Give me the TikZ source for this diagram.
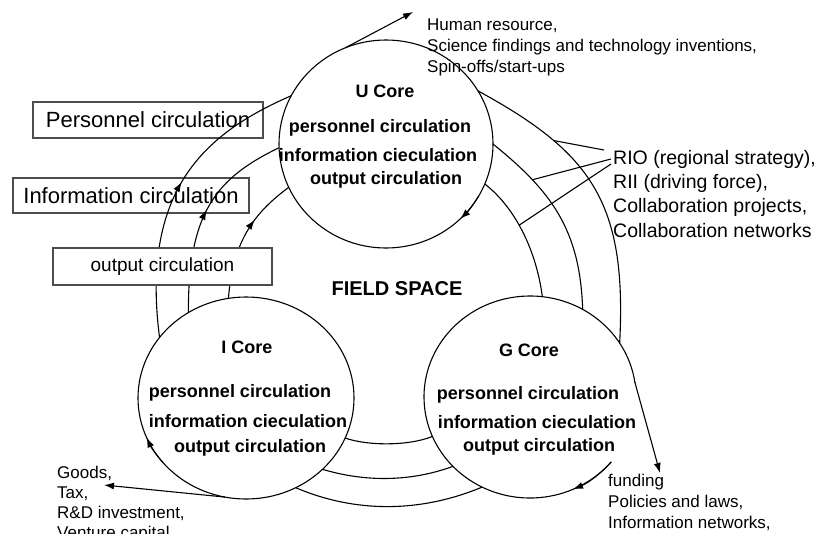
\documentclass[tikz,border=0pt]{standalone}
\usepackage{fontspec}
\setmainfont{Liberation Sans}
\usetikzlibrary{arrows.meta,decorations.markings,shapes.geometric}

\tikzset{
  core/.style={ellipse, inner sep=0pt, outer sep=0pt},
  ring/.style={line width=1.1pt, black},
  tipA/.style={-{Latex[length=10pt,width=7pt]}},
  midarrow/.style={postaction={decorate}, decoration={markings,
      mark=at position #1 with {\arrow{Latex[length=10pt,width=7pt]}}}},
  circbox/.style={draw=black!70, line width=1.4pt, inner sep=0pt},
  boldtxt/.style={font=\fontsize{18}{20}\selectfont\bfseries, inner sep=0pt},
  smalltxt/.style={align=left, inner sep=0pt, anchor=north west},
}

\begin{document}
\begin{tikzpicture}[x=1pt,y=-1pt]
\useasboundingbox (0,0) rectangle (818,533);
\clip (0,0) rectangle (818,533);
\fill[white] (0,0) rectangle (818,533);

% core circles
\node[core, draw, line width=1.1pt, minimum width=214pt, minimum height=208pt] (U) at (386,144) {};
\node[core, draw, line width=1.1pt, minimum width=216pt, minimum height=202pt] (I) at (246,398) {};
\node[core, minimum width=212pt, minimum height=202pt] (G) at (530,397) {};
\draw[ring] (G.center) ++(8:106pt and 101pt) arc[start angle=8, end angle=320, x radius=106pt, y radius=101pt];

% label boxes (transparent)
\node[circbox, minimum width=230pt, minimum height=36pt, font=\fontsize{22}{24}\selectfont] (pbox) at (148,120) {Personnel circulation};
\node[circbox, minimum width=236pt, minimum height=35pt, font=\fontsize{22}{24}\selectfont] (ibox) at (131,195.5) {Information circulation};

% left rings (I -> U)
\draw[ring, midarrow=0.53] (I.145) .. controls (140,187) and (208,132) .. (U.153);
\draw[ring, midarrow=0.52] (I.124) .. controls (188,213) and (216,178) .. (U.182);
\draw[ring, midarrow=0.64] (I.100) .. controls (233,238) and (257,211) .. (U.204);

% right rings (U -> G)
\draw[ring] (U.30) .. controls (592,153) and (627,203) .. (G.31) coordinate[pos=0.27] (o1);
\draw[ring] (U.0) .. controls (551,191) and (580,229) .. (G.59) coordinate[pos=0.26] (m1);
\draw[ring] (U.-22) .. controls (518,210) and (537,255) .. (G.83) coordinate[pos=0.42] (n1);

% bottom rings (G -> I)
\draw[ring] (I.-22) .. controls (368,446) and (409,446) .. (G.202);
\draw[ring] (I.-43) .. controls (365,482) and (410,482) .. (G.222);
\draw[ring] (I.-61) .. controls (355,513) and (420,513) .. (G.242);

% arrows along the cores
\draw[ring, tipA] (U.center) ++(-30:107pt and 104pt) arc[start angle=-30, end angle=-46, x radius=107pt, y radius=104pt];
\draw[ring, tipA] (I.center) ++(220:108pt and 101pt) arc[start angle=220, end angle=203, x radius=108pt, y radius=101pt];
\draw[ring, tipA] (G.center) ++(-40:106pt and 101pt) arc[start angle=-40, end angle=-66, x radius=106pt, y radius=101pt];

% outgoing arrows
\coordinate (hr) at (413,12);
\coordinate (fd) at (660,473);
\coordinate (gd) at (104,485);
\draw[ring, tipA] (U.113) -- (hr);
\draw[ring, tipA] (G.8) -- (fd);
\draw[ring, tipA] (I.258) -- (gd);

% RIO connectors
\coordinate (r1) at (604,150);
\coordinate (r2) at (611,159);
\coordinate (r3) at (611,164);
\draw[ring] (r1) -- (o1);
\draw[ring] (r2) -- (m1);
\draw[ring] (r3) -- (n1);

% output box (opaque)
\node[circbox, fill=white, minimum width=219pt, minimum height=37pt, font=\fontsize{19}{21}\selectfont] (obox) at (162.5,266.5) {output circulation};

% core texts
\node[boldtxt] (ut) at (385,91) {U Core};
\node[boldtxt] (u1) at (380,128) {personnel circulation};
\node[boldtxt] (u2) at (378,155) {information cieculation};
\node[boldtxt] (u3) at (386,180) {output circulation};

\node[boldtxt] (it) at (247,347) {I Core};
\node[boldtxt] (i1) at (240,393) {personnel circulation};
\node[boldtxt] (i2) at (248,421) {information cieculation};
\node[boldtxt] (i3) at (250,448) {output circulation};

\node[boldtxt] (gt) at (529,350) {G Core};
\node[boldtxt] (g1) at (528,395) {personnel circulation};
\node[boldtxt] (g2) at (537,422) {information cieculation};
\node[boldtxt] (g3) at (539,447) {output circulation};

\node[font=\fontsize{20}{22}\selectfont\bfseries, inner sep=0pt] (fs) at (397,289) {FIELD SPACE};

% side labels
\node[smalltxt, font=\fontsize{17}{21}\selectfont] (hrt) at (427,19) {Human resource,\\Science findings and technology inventions,\\Spin-offs/start-ups};
\node[smalltxt, font=\fontsize{19.5}{24.3}\selectfont] (riot) at (613,150) {RIO (regional strategy),\\RII (driving force),\\Collaboration projects,\\Collaboration networks};
\node[smalltxt, font=\fontsize{17}{20}\selectfont] (goodst) at (57,466) {Goods,\\Tax,\\R\&D investment,\\Venture capital};
\node[smalltxt, font=\fontsize{17}{21}\selectfont] (fundt) at (608,474) {funding\\Policies and laws,\\Information networks,};
\end{tikzpicture}
\end{document}
